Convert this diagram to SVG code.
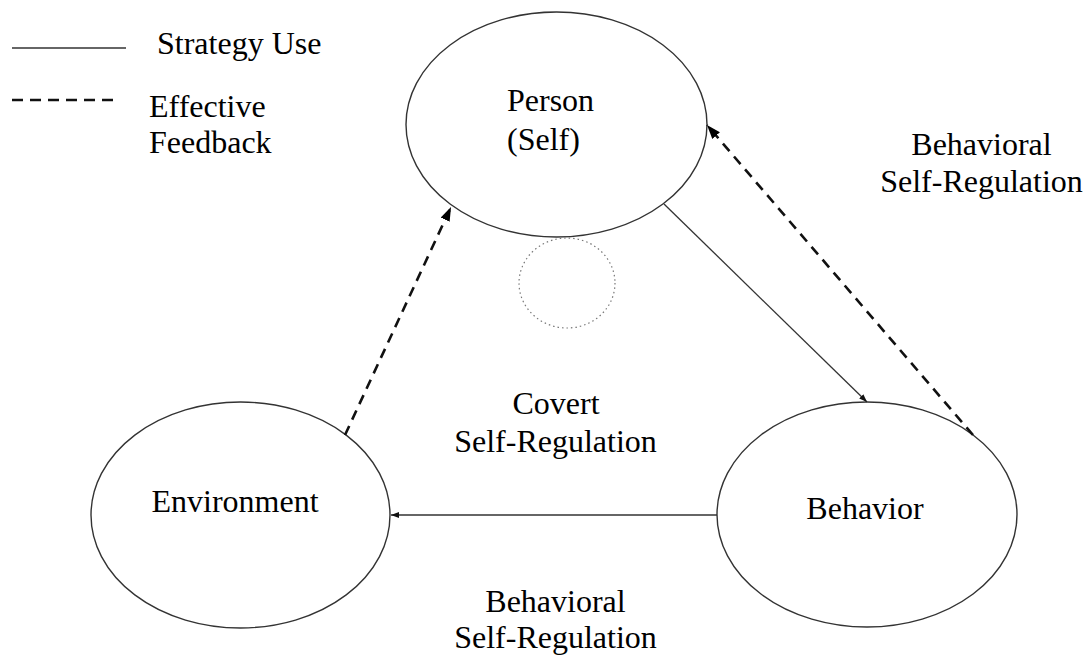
<svg xmlns="http://www.w3.org/2000/svg" width="1089" height="656" viewBox="0 0 1089 656">
<style>
.node{fill:#fff;stroke:#333;stroke-width:1.4}
.lbl{font-family:"Liberation Serif","Times New Roman",serif;font-size:32px;fill:#000}
.c{text-anchor:middle}
.solid{stroke:#333;stroke-width:1.3;fill:none}
.dash{stroke:#111;stroke-width:2.6;fill:none;stroke-dasharray:10 7}
</style>
<defs>
<marker id="sm" markerUnits="userSpaceOnUse" markerWidth="9" markerHeight="7" refX="8" refY="3" orient="auto">
<path d="M0,0 L8,3 L0,6 z" fill="#111"/>
</marker>
<marker id="lg" markerUnits="userSpaceOnUse" markerWidth="15" markerHeight="11" refX="14" refY="5" orient="auto">
<path d="M0,0 L14,5 L0,10 z" fill="#000"/>
</marker>
</defs>
<rect width="1089" height="656" fill="#fff"/>
<g id="legend">
<line x1="12" y1="48" x2="126" y2="48" class="solid"/>
<text x="157" y="54" class="lbl">Strategy Use</text>
<line x1="12" y1="100" x2="113" y2="100" class="dash" style="stroke-dasharray:11 7"/>
<text x="149" y="117" class="lbl">Effective</text>
<text x="149" y="153" class="lbl">Feedback</text>
</g>
<g id="person">
<ellipse cx="556.5" cy="124.5" rx="150.5" ry="112.5" class="node"/>
<text x="507" y="111" class="lbl">Person</text>
<text x="507" y="150" class="lbl">(Self)</text>
</g>
<g id="covert-circle">
<ellipse cx="567" cy="283" rx="48" ry="45" fill="none" stroke="#777" stroke-width="1.2" stroke-dasharray="1.5 3"/>
</g>
<g id="environment">
<ellipse cx="240.5" cy="515" rx="149.5" ry="113" class="node"/>
<text x="235" y="512" class="lbl c">Environment</text>
</g>
<g id="behavior">
<ellipse cx="867" cy="514.5" rx="150" ry="112.5" class="node"/>
<text x="865" y="519" class="lbl c">Behavior</text>
</g>
<g id="connectors">
<line x1="664" y1="204" x2="867" y2="402" class="solid" marker-end="url(#sm)"/>
<line x1="717" y1="515" x2="391" y2="515" class="solid" marker-end="url(#sm)"/>
<line x1="973" y1="435" x2="707" y2="125" class="dash" marker-end="url(#lg)"/>
<line x1="345" y1="435" x2="451" y2="207" class="dash" marker-end="url(#lg)"/>
</g>
<g id="labels">
<text x="981.5" y="155" class="lbl c">Behavioral</text>
<text x="981.5" y="192" class="lbl c">Self-Regulation</text>
<text x="556" y="414" class="lbl c">Covert</text>
<text x="555.5" y="452" class="lbl c">Self-Regulation</text>
<text x="555.5" y="612" class="lbl c">Behavioral</text>
<text x="555.5" y="648" class="lbl c">Self-Regulation</text>
</g>
</svg>
